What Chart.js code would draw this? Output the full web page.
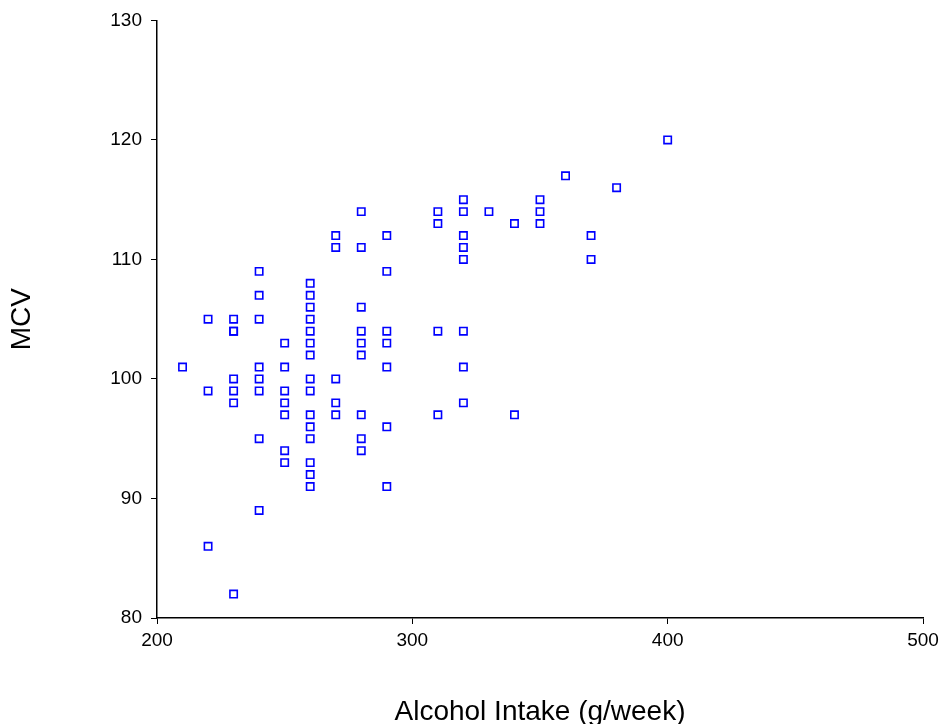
<!DOCTYPE html>
<html>
<head>
<meta charset="utf-8">
<script src="https://cdn.jsdelivr.net/npm/chart.js@4.4.1/dist/chart.umd.min.js"></script>
<style>
  body { margin: 0; background: #fff; }
  canvas { display: block; }
</style>
</head>
<body>
<canvas id="chart" width="947" height="724"></canvas>
<script>
// alcohol intake (g/week) and MCV, one entry per patient
const alcohol = [
  210,
  220, 220, 220,
  230, 230, 230, 230, 230, 230, 230,
  240, 240, 240, 240, 240, 240, 240, 240,
  250, 250, 250, 250, 250, 250, 250,
  260, 260, 260, 260, 260, 260, 260, 260, 260, 260, 260, 260, 260, 260, 260,
  270, 270, 270, 270, 270,
  280, 280, 280, 280, 280, 280, 280, 280, 280,
  290, 290, 290, 290, 290, 290, 290,
  310, 310, 310, 310,
  320, 320, 320, 320, 320, 320, 320, 320,
  330,
  340, 340,
  350, 350, 350,
  360,
  370, 370,
  380,
  400
];
const mcv = [
  101,
  105, 99, 86,
  105, 104, 104, 100, 99, 98, 82,
  109, 107, 105, 101, 100, 99, 95, 89,
  103, 101, 99, 98, 97, 94, 93,
  108, 107, 106, 105, 104, 103, 102, 100, 99, 97, 96, 95, 93, 92, 91,
  112, 111, 100, 98, 97,
  114, 111, 106, 104, 103, 102, 97, 95, 94,
  112, 109, 104, 103, 101, 96, 91,
  114, 113, 104, 97,
  115, 114, 112, 111, 110, 104, 101, 98,
  114,
  113, 97,
  115, 114, 113,
  117,
  112, 110,
  116,
  120
];
const xTicks = [200, 300, 400, 500];
const yTicks = [80, 90, 100, 110, 120, 130];

const points = alcohol.map((a, i) => ({ x: a, y: mcv[i] }));

const tickFont = { family: 'Liberation Sans, Arial, sans-serif', size: 19 };
const titleFont = { family: 'Liberation Sans, Arial, sans-serif', size: 28 };

new Chart(document.getElementById('chart'), {
  type: 'scatter',
  data: {
    datasets: [{
      data: points,
      pointStyle: 'rect',
      pointRadius: 5.2,
      pointHoverRadius: 5.2,
      borderColor: '#0000ff',
      backgroundColor: 'rgba(0,0,0,0)',
      borderWidth: 1.6
    }]
  },
  options: {
    responsive: false,
    animation: false,
    layout: { padding: { left: 0, top: 18, right: 24, bottom: 0 } },
    plugins: { legend: { display: false }, tooltip: { enabled: false } },
    scales: {
      x: {
        type: 'linear',
        min: 200,
        max: 500,
        afterBuildTicks: s => { s.ticks = xTicks.map(v => ({ value: v })); },
        afterFit: s => { s.height = 106; },
        grid: { display: true, drawOnChartArea: false, tickLength: 6, color: '#000' },
        border: { color: '#000', width: 1.5 },
        ticks: { color: '#000', font: tickFont, padding: 5, maxRotation: 0 },
        title: { display: true, text: 'Alcohol Intake (g/week)', color: '#000', font: titleFont, padding: { top: 0, bottom: -5 } }
      },
      y: {
        type: 'linear',
        min: 80,
        max: 130,
        afterBuildTicks: s => { s.ticks = yTicks.map(v => ({ value: v })); },
        afterFit: s => { s.width = 157; },
        grid: { display: true, drawOnChartArea: false, tickLength: 6, color: '#000' },
        border: { color: '#000', width: 1.5 },
        ticks: { color: '#000', font: tickFont, padding: 9 },
        title: { display: true, text: 'MCV', color: '#000', font: titleFont, padding: { top: 5, bottom: 0 } }
      }
    }
  }
});
</script>
</body>
</html>
